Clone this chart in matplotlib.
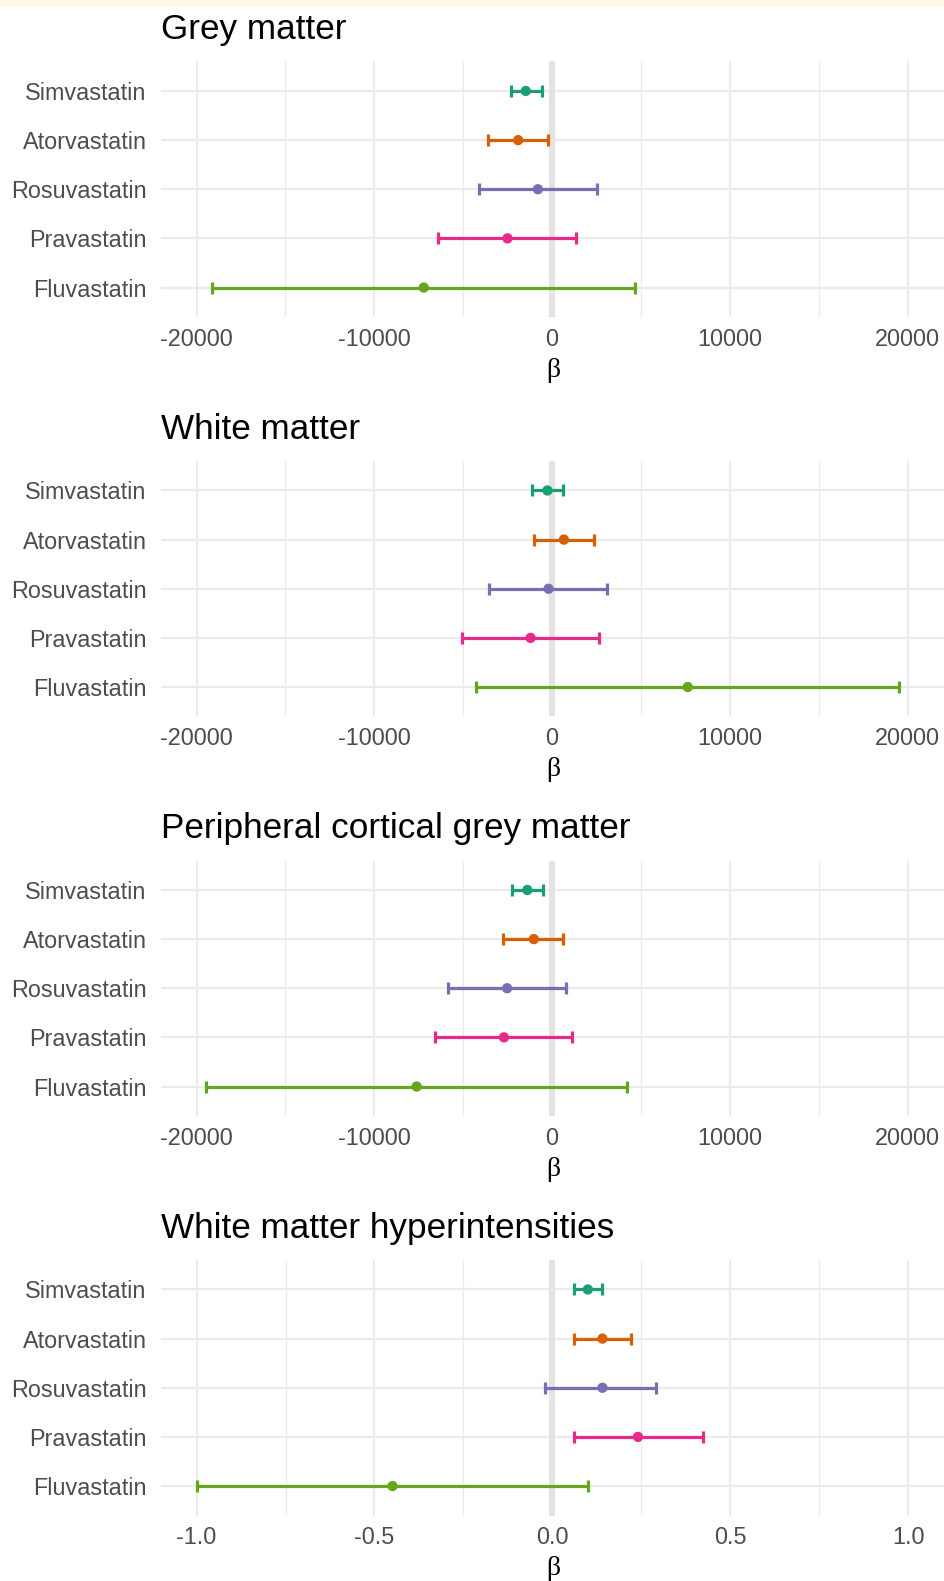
import numpy as np
import matplotlib
matplotlib.use("Agg")
import matplotlib.pyplot as plt
from matplotlib.ticker import MultipleLocator, FormatStrFormatter
from matplotlib.patches import Rectangle

plt.rcParams['font.family'] = ['Liberation Sans', 'DejaVu Sans']
plt.rcParams['axes.unicode_minus'] = False

drugs = ["Simvastatin", "Atorvastatin", "Rosuvastatin", "Pravastatin", "Fluvastatin"]
colors = ["#1B9E77", "#D95F02", "#7570B3", "#E7298A", "#66A61E"]
titles = ["Grey matter", "White matter", "Peripheral cortical grey matter",
          "White matter hyperintensities"]

# estimate, lower and upper CI, one row per drug
grey_est = [-1480, -1910, -800, -2510, -7220]
grey_lo = [-2330, -3590, -4110, -6400, -19130]
grey_hi = [-580, -210, 2550, 1350, 4690]

white_est = [-260, 660, -200, -1210, 7630]
white_lo = [-1130, -1030, -3550, -5080, -4290]
white_hi = [620, 2360, 3110, 2660, 19540]

pcgm_est = [-1390, -1030, -2530, -2710, -7620]
pcgm_lo = [-2240, -2740, -5830, -6580, -19460]
pcgm_hi = [-490, 620, 770, 1120, 4220]

wmh_est = [0.100, 0.141, 0.141, 0.241, -0.449]
wmh_lo = [0.060, 0.060, -0.020, 0.060, -1.000]
wmh_hi = [0.140, 0.222, 0.292, 0.423, 0.100]

panels = [(grey_est, grey_lo, grey_hi), (white_est, white_lo, white_hi),
          (pcgm_est, pcgm_lo, pcgm_hi), (wmh_est, wmh_lo, wmh_hi)]

W, H = 945, 1581
fig = plt.figure(figsize=(W / 100, H / 100), dpi=100)
fig.patches.append(Rectangle((0, 1 - 7 / H), 1, 7 / H, transform=fig.transFigure,
                             facecolor="#fff9e3", edgecolor="none", zorder=0))

ypos = np.arange(len(drugs))[::-1]

for i in range(4):
    top = 61.5 + 399.5 * i
    bot = 317 + 399.5 * i
    ax = fig.add_axes([161 / W, 1 - bot / H, (W - 161) / W, (bot - top) / H])
    est, lo, hi = [np.array(a, dtype=float) for a in panels[i]]

    if i < 3:
        ax.set_xlim(-22000, 22100)
        ax.xaxis.set_major_locator(MultipleLocator(10000))
        ax.xaxis.set_minor_locator(MultipleLocator(5000))
        ax.xaxis.set_major_formatter(FormatStrFormatter('%d'))
    else:
        ax.set_xlim(-1.1, 1.104)
        ax.xaxis.set_major_locator(MultipleLocator(0.5))
        ax.xaxis.set_minor_locator(MultipleLocator(0.25))
        ax.xaxis.set_major_formatter(FormatStrFormatter('%.1f'))
    ax.set_ylim(-0.6, 4.6)
    ax.set_yticks(ypos)
    ax.set_yticklabels(drugs)

    ax.grid(True, which='major', axis='x', color='#ebebeb', lw=1.5)
    ax.grid(True, which='minor', axis='x', color='#ebebeb', lw=1.0)
    ax.grid(True, which='major', axis='y', color='#ebebeb', lw=1.6)
    ax.set_axisbelow(True)
    for s in ax.spines.values():
        s.set_visible(False)
    ax.tick_params(which='both', length=0)
    ax.tick_params(axis='x', pad=7.8, labelsize=16.9, labelcolor='#4d4d4d')
    ax.tick_params(axis='y', pad=10.4, labelsize=16.8, labelcolor='#4d4d4d')

    ax.axvline(0, color='#e3e3e3', lw=4.3, zorder=1)

    for j in range(len(drugs)):
        ax.errorbar(est[j], ypos[j], xerr=[[est[j] - lo[j]], [hi[j] - est[j]]],
                    fmt='none', ecolor=colors[j], elinewidth=2.3, capsize=4.0,
                    capthick=2.3, zorder=2)
    ax.scatter(est, ypos, c=colors, s=55, zorder=3, edgecolors='none')

    ax.set_title(titles[i], loc='left', fontsize=25.3, pad=15.9, color='black')
    ax.set_xlabel("β", fontsize=20, family=['Liberation Serif', 'DejaVu Serif'],
                  labelpad=5)

fig.savefig("out.png", dpi=100)
